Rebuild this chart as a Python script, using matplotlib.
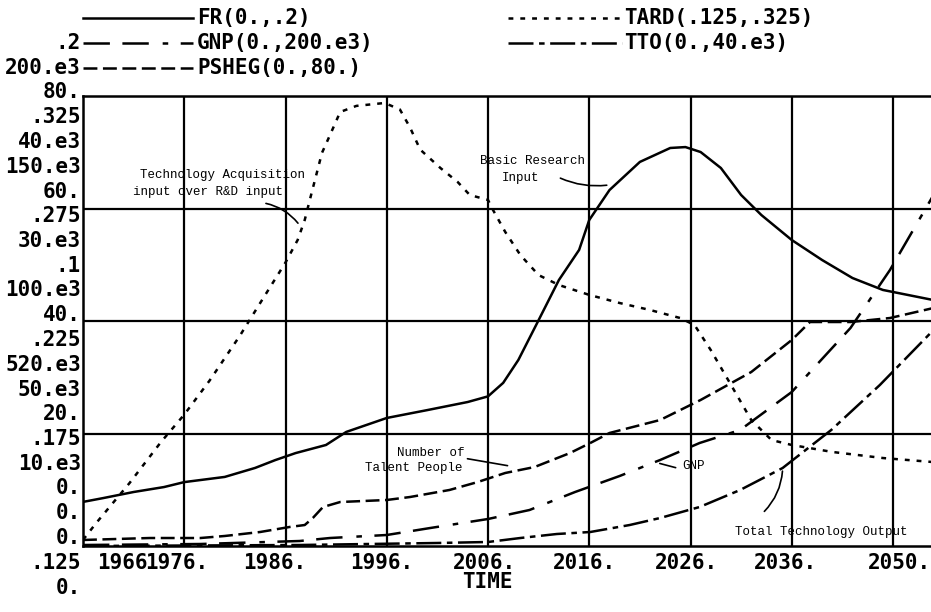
import matplotlib
matplotlib.use("Agg")
import matplotlib.pyplot as plt
from matplotlib import font_manager
from matplotlib.lines import Line2D
import numpy as np

W, H = 931, 612

# --- data (years, variable units) ---
fr_years = [1966, 1968, 1971, 1974, 1976, 1980, 1983, 1985, 1987, 1990, 1992, 1996,
            2000, 2004, 2006, 2007.5, 2009, 2011, 2013, 2015, 2016, 2018, 2021, 2024,
            2025.5, 2027, 2029, 2031, 2033, 2036, 2039, 2042, 2045, 2050]
fr = [.0196, .0213, .024, .0262, .0284, .0307, .0347, .0382, .0413, .0449, .0507, .0569,
      .0604, .064, .0665, .0725, .0827, .1004, .1182, .1316, .1449, .1582, .1707, .1769,
      .1773, .1751, .168, .156, .1471, .136, .1271, .1191, .1138, .1093]

tard_years = [1966, 1967.3, 1970.6, 1973.7, 1976, 1978.5, 1981.5, 1983.5, 1986, 1987.2,
              1987.9, 1988.4, 1989.6, 1990.4, 1991.4, 1993, 1995.8, 1997.3, 1998.3, 1999.3,
              2001.3, 2003, 2004.2, 2006, 2006.5, 2007.7, 2009.2, 2011, 2013, 2016,
              2019, 2022, 2025, 2026.4, 2028, 2030, 2032, 2034, 2036, 2040, 2045, 2050]
tard = [.1277, .1352, .153, .1712, .1834, .1985, .2185, .233, .251, .261,
        .2699, .2788, .2997, .3077, .3179, .3206, .3219, .319, .311, .3012,
        .293, .2868, .281, .2788, .2743, .2646, .2543, .2454, .241, .2366,
        .233, .2299, .2263, .2232, .2121, .1966, .181, .1721, .1699, .1668, .1641, .1623]

psheg_years = [1966, 1972.6, 1977.6, 1980, 1983.5, 1986.4, 1987.9, 1988.7, 1989.7, 1991.4,
               1996, 1998.3, 2002.2, 2005, 2007.7, 2010.6, 2014.1, 2016.1, 2018, 2023,
               2027, 2032, 2036, 2037.8, 2041.8, 2045.7, 2050]
psheg = [1.07, 1.42, 1.42, 1.78, 2.49, 3.38, 3.73, 4.98, 6.93, 7.82,
         8.18, 8.71, 9.96, 11.38, 12.98, 14.04, 16.53, 18.31, 20.09, 22.4,
         25.96, 30.93, 36.62, 39.82, 39.82, 40.53, 42.31]

gnp_years = [1966, 1977.6, 1987.4, 1990.4, 1996, 2000.3, 2006, 2010.1, 2014.6, 2019,
             2023, 2026.9, 2030.9, 2036, 2041.8, 2045.7, 2050]
gnp = [444, 889, 2222, 3556, 4889, 8000, 12000, 16000, 24000, 31111,
       38222, 45778, 51556, 68444, 96889, 122667, 156000]

tto_years = [1966, 1987.4, 2001, 2006, 2009.2, 2012.8, 2016.1, 2020, 2023, 2026.9,
             2030.9, 2035.1, 2039.9, 2044.7, 2050]
tto = [0, 89, 267, 356, 711, 1067, 1244, 1867, 2489, 3467,
       4978, 6933, 10311, 14311, 19200]

# left-hand scale column, top to bottom (as printed)
scale_labels = [".2", "200.e3", "80.", ".325", "40.e3", "150.e3", "60.", ".275", "30.e3",
                ".1", "100.e3", "40.", ".225", "520.e3", "50.e3", "20.", ".175", "10.e3",
                "0.", "0.", "0.", ".125", "0."]
time_labels = ["1966", "1976.", "1986.", "1996.", "2006.", "2016.", "2026.", "2036.", "2050."]

installed = {f.name for f in font_manager.fontManager.ttflist}
if "Liberation Sans Narrow" in installed:
    LBL = dict(family="Liberation Sans Narrow", weight="bold", size=19)
else:
    LBL = dict(family="DejaVu Sans Mono", weight="bold", size=15)
NOTE = dict(family=["Liberation Mono", "DejaVu Sans Mono"], size=9)

plt.rcParams["lines.scale_dashes"] = False


def fx(px):
    return px / W


def fy(py):
    return 1 - py / H


fig = plt.figure(figsize=(W / 100, H / 100), dpi=100)
ax = fig.add_axes([fx(83), fy(546), (931 - 83) / W, (546 - 96) / H])
ax.set_xlim(1966, 1966 + (931 - 83) / 10.125)
ax.set_ylim(0, 4)

# series: (years, values, lo, hi, dash pattern)
styles = {
    "FR": (fr_years, fr, 0.0, 0.2, (None, None)),
    "GNP": (gnp_years, gnp, 0.0, 200e3, (0, (19, 9, 19, 10, 4, 9))),
    "PSHEG": (psheg_years, psheg, 0.0, 80.0, (0, (10, 4))),
    "TARD": (tard_years, tard, 0.125, 0.325, (0, (3.5, 5))),
    "TTO": (tto_years, tto, 0.0, 40e3, (0, (18, 4, 4, 4))),
}
lw = 1.8
for name, (yrs, vals, lo, hi, dash) in styles.items():
    yv = (np.array(vals) - lo) / (hi - lo) * 4
    ls = "-" if dash[0] is None else dash
    ax.plot(yrs, yv, color="black", lw=lw, linestyle=ls, zorder=3, solid_capstyle="butt")

ax.set_xticks(np.arange(1976, 2047, 10))
ax.set_yticks([1, 2, 3])
ax.grid(True, color="black", lw=1.6)
ax.tick_params(length=0, labelbottom=False, labelleft=False)
for s in ["left", "top", "bottom"]:
    ax.spines[s].set_linewidth(1.8)
ax.spines["right"].set_visible(False)

# --- legend rows at the top ---
legend_rows = [("FR(0.,.2)", "FR", 18, 83, 193, 197),
               ("GNP(0.,200.e3)", "GNP", 43, 83, 193, 197),
               ("PSHEG(0.,80.)", "PSHEG", 68, 83, 193, 197),
               ("TARD(.125,.325)", "TARD", 18, 508, 622, 624),
               ("TTO(0.,40.e3)", "TTO", 43, 508, 622, 624)]
for txt, key, py, x0, x1, xt in legend_rows:
    dash = styles[key][4]
    ls = "-" if dash[0] is None else dash
    fig.add_artist(Line2D([fx(x0), fx(x1)], [fy(py), fy(py)], transform=fig.transFigure,
                          color="black", lw=lw, linestyle=ls))
    fig.text(fx(xt), fy(py), txt, ha="left", va="center", **LBL)

# --- left scale column ---
for i, lab in enumerate(scale_labels):
    fig.text(fx(81), fy(43 + i * 24.75), lab, ha="right", va="center", **LBL)

# --- time labels ---
time_left = [97, 145, 243, 350, 453, 553, 655, 754, 868]
for lab, px in zip(time_labels, time_left):
    fig.text(fx(px), fy(563), lab, ha="left", va="center", **LBL)
fig.text(fx(487), fy(582), "TIME", ha="center", va="center", **LBL)

# --- hand-written notes ---
ax.text(1971.6, 3.30, "Technology Acquisition", ha="left", va="center", **NOTE)
ax.text(1970.9, 3.15, "input over R&D input", ha="left", va="center", **NOTE)
ax.annotate("", xy=(1987.4, 2.85), xytext=(1983.8, 3.05),
            arrowprops=dict(arrowstyle="-", lw=1.2, connectionstyle="arc3,rad=-0.2"))

ax.text(2005.2, 3.42, "Basic Research", ha="left", va="center", **NOTE)
ax.text(2007.4, 3.27, "Input", ha="left", va="center", **NOTE)
ax.annotate("", xy=(2018.0, 3.21), xytext=(2012.9, 3.28),
            arrowprops=dict(arrowstyle="-", lw=1.2, connectionstyle="arc3,rad=0.15"))

ax.text(1997.0, 0.83, "Number of", ha="left", va="center", **NOTE)
ax.text(1993.9, 0.69, "Talent People", ha="left", va="center", **NOTE)
ax.annotate("", xy=(2008.2, 0.71), xytext=(2003.7, 0.78),
            arrowprops=dict(arrowstyle="-", lw=1.2))

ax.text(2025.2, 0.71, "GNP", ha="left", va="center", **NOTE)
ax.annotate("", xy=(2022.7, 0.74), xytext=(2024.8, 0.69),
            arrowprops=dict(arrowstyle="-", lw=1.2))

ax.text(2030.4, 0.124, "Total Technology Output", ha="left", va="center", **NOTE)
ax.annotate("", xy=(2035.1, 0.69), xytext=(2033.1, 0.29),
            arrowprops=dict(arrowstyle="-", lw=1.2, connectionstyle="arc3,rad=0.2"))

fig.savefig("out.png", dpi=100)
